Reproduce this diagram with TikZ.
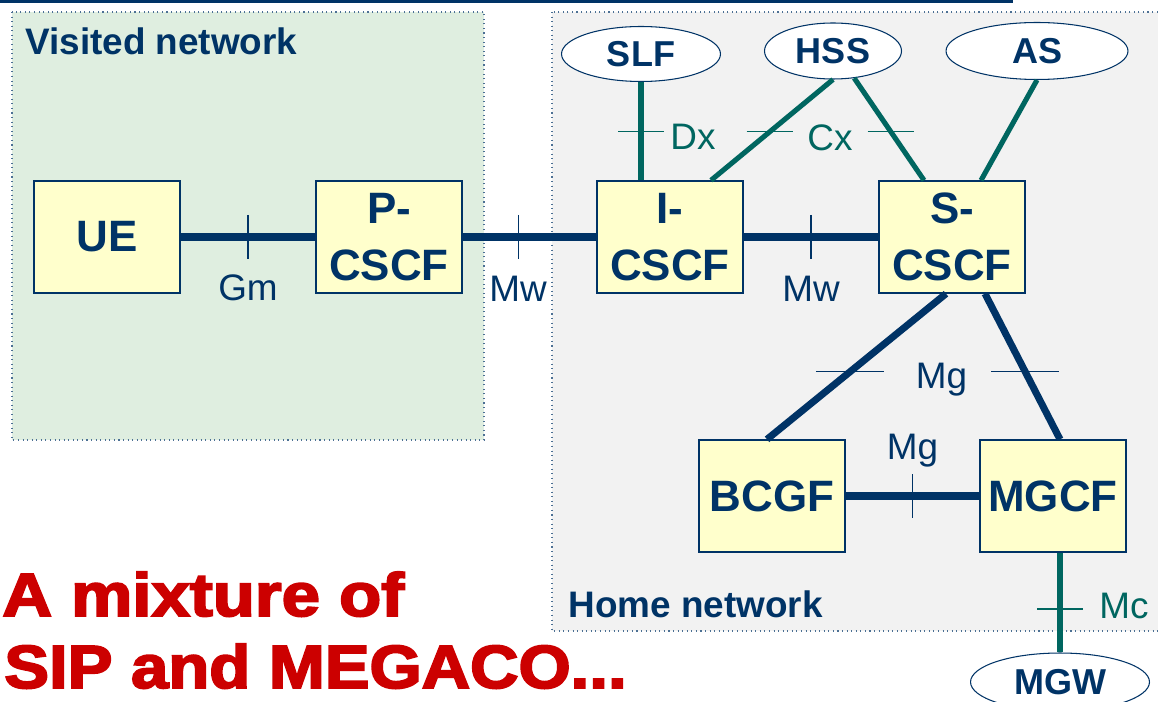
\documentclass[tikz,border=0pt]{standalone}
\usepackage{fontspec}
\setmainfont{Liberation Sans}
\newfontfamily\redfont{Liberation Sans}[UprightFont=* Bold,FakeBold=3]
\usepackage{graphicx}
\usetikzlibrary{positioning,shapes.geometric,calc}

\definecolor{imsblue}{HTML}{003366}
\definecolor{imsteal}{HTML}{006660}
\definecolor{boxfill}{HTML}{FFFFCC}
\definecolor{visitfill}{HTML}{DFEEE0}
\definecolor{homefill}{HTML}{F2F2F2}
\definecolor{redtxt}{HTML}{CC0000}

\tikzset{
  entity/.style={draw=imsblue, line width=0.8pt, fill=boxfill, minimum width=2.92cm, minimum height=2.24cm, inner sep=0pt, align=center, text=imsblue, font=\fontsize{25}{32.4}\selectfont\bfseries},
  server/.style={draw=imsblue, ellipse, fill=white, line width=0.6pt, inner sep=0pt, text=imsblue, font=\fontsize{20.5}{24}\selectfont\bfseries},
  sip/.style={draw=imsblue, line width=4pt},
  diam/.style={draw=imsteal, line width=2.9pt},
  btick/.style={draw=imsblue, line width=0.6pt},
  ttick/.style={draw=imsteal, line width=0.6pt},
  iface/.style={text=imsblue, font=\fontsize{21}{24}\selectfont, inner sep=0pt},
  tface/.style={iface, text=imsteal},
  area/.style={draw=imsblue!70, dotted, line width=0.6pt},
  arealabel/.style={text=imsblue, font=\fontsize{21}{24}\selectfont\bfseries, inner sep=0pt, anchor=base west},
  slogan/.style={text=redtxt, font=\redfont\fontsize{34.7}{40}\selectfont, inner sep=0pt, anchor=base west}
}

\begin{document}
\begin{tikzpicture}[x=0.02cm, y=-0.02cm]
\useasboundingbox (0,0) rectangle (1158,702);
% top rule
\fill[imsblue] (0,0) rectangle (1013,3);
% network areas
\draw[area, fill=visitfill] (12,12) rectangle (484,440);
\draw[area, fill=homefill] (552,12) rectangle (1170,631);
\node[arealabel] (visited) at (25,55) {Visited network};
\node[arealabel] (home) at (568,617) {Home network};

% functions
\node[entity] (ue) at (107,237) {UE};
\node[entity] (pcscf) at (389,237) {P-\\CSCF};
\node[entity] (icscf) at (670,237) {I-\\CSCF};
\node[entity] (scscf) at (952,237) {S-\\CSCF};
\node[entity] (bcgf) at (772,496) {BCGF};
\node[entity] (mgcf) at (1053,496) {MGCF};

% databases and servers
\node[server, minimum width=3.18cm, minimum height=1.1cm] (slf) at (641,54) {SLF};
\node[server, minimum width=2.74cm, minimum height=1.12cm] (hss) at (833,51) {HSS};
\node[server, minimum width=3.64cm, minimum height=1.14cm] (as) at (1037,51) {AS};
\node[server, minimum width=3.58cm, minimum height=1.16cm] (mgw) at (1060,682) {MGW};

% SIP interfaces
\draw[sip] (ue) -- coordinate[pos=.5] (gm) (pcscf);
\draw[btick] ($(gm)+(0,-22)$) -- ($(gm)+(0,22)$);
\node[iface] (gmlabel) at ($(gm)+(0,51)$) {Gm};

\draw[sip] (pcscf) -- coordinate[pos=.415] (mw1) (icscf);
\draw[btick] ($(mw1)+(0,-22)$) -- ($(mw1)+(0,22)$);
\node[iface] (mwlabel1) at ($(mw1)+(0,52)$) {Mw};

\draw[sip] (icscf) -- coordinate[pos=.5] (mw2) (scscf);
\draw[btick] ($(mw2)+(0,-22)$) -- ($(mw2)+(0,22)$);
\node[iface] (mwlabel2) at ($(mw2)+(0,52)$) {Mw};

% MEGACO interfaces
\draw[sip] ($(scscf.south)+(-6,0)$) -- coordinate[pos=.537] (mg1) ($(bcgf.north)+(-5,0)$);
\draw[sip] ($(scscf.south)+(33,0)$) -- coordinate[pos=.537] (mg2) ($(mgcf.north)+(7,0)$);
\draw[btick] ($(mg1)+(-34,0)$) -- ($(mg1)+(34,0)$);
\draw[btick] ($(mg2)+(-34,0)$) -- ($(mg2)+(34,0)$);
\node[iface] (mglabel1) at ($(mg1)!.5!(mg2)+(4,8)$) {Mg};

\draw[sip] (bcgf) -- coordinate[pos=.5] (mg3) (mgcf);
\draw[btick] ($(mg3)+(0,-22)$) -- ($(mg3)+(0,22)$);
\node[iface] (mglabel2) at ($(mg3)+(0,-45)$) {Mg};

% Diameter interfaces
\draw[diam] (slf.south) -- coordinate[pos=.5] (dx) (slf.south |- icscf.north);
\draw[ttick] ($(dx)+(-23,0)$) -- ($(dx)+(23,0)$);
\node[tface, anchor=west] (dxlabel) at ($(dx)+(29,6)$) {Dx};

\draw[diam] (hss.south) -- coordinate[pos=.52] (cx1) ($(icscf.north)+(41,0)$);
\draw[diam] (hss.-52) -- coordinate[pos=.52] (cx2) ($(scscf.north)+(-28,0)$);
\draw[ttick] ($(cx1)+(-23,0)$) -- ($(cx1)+(23,0)$);
\draw[ttick] ($(cx2)+(-23,0)$) -- ($(cx2)+(23,0)$);
\node[tface] (cxlabel) at ($(cx1)!.5!(cx2)+(0,6)$) {Cx};

\draw[diam] (as.south) -- ($(scscf.north)+(29,0)$);

\draw[diam] (mgw.north) -- coordinate[pos=.436] (mc) (mgw.north |- mgcf.south);
\draw[ttick] ($(mc)+(-23,0)$) -- ($(mc)+(23,0)$);
\node[tface, anchor=west] (mclabel) at ($(mc)+(39,-3)$) {Mc};

% slogan
\node[slogan] (mix1) at (2,616) {\scalebox{1.13}[1]{A mixture of}};
\node[slogan] (mix2) at (4,688) {\scalebox{1.1}[1]{SIP and MEGACO...}};
\end{tikzpicture}
\end{document}
